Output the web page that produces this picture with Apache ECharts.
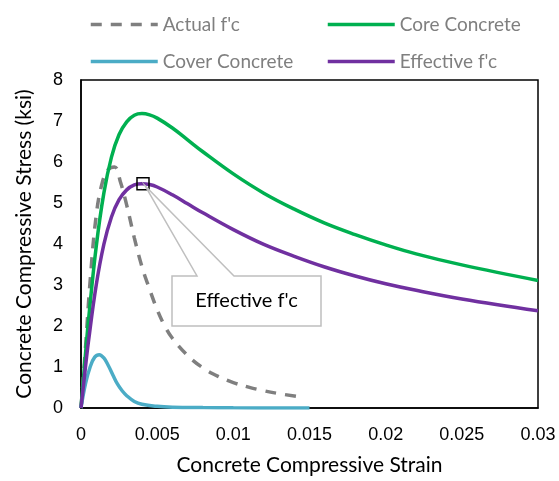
<!DOCTYPE html>
<html>
<head>
<meta charset="utf-8">
<script src="https://cdn.jsdelivr.net/npm/echarts@6/dist/echarts.min.js"></script>
<style>
  html, body { margin: 0; padding: 0; background: #fff; }
  #chart { width: 559px; height: 481px; }
</style>
</head>
<body>
<div id="chart"></div>
<script>
// values (strain, ksi)
const actualStrain = [0, 0.0003, 0.0006, 0.001, 0.0014, 0.0018, 0.0022, 0.0026, 0.003, 0.0035, 0.004, 0.0045, 0.005, 0.0055, 0.006, 0.007, 0.008, 0.009, 0.01, 0.011, 0.012, 0.013, 0.0142]
const actualStress = [0, 1.5, 3.1, 4.7, 5.5, 5.82, 5.88, 5.5, 4.95, 4.15, 3.45, 2.9, 2.4, 2.0, 1.7, 1.28, 0.98, 0.77, 0.62, 0.51, 0.42, 0.35, 0.28]

const coreStrain = [0, 0.00025, 0.0005, 0.001, 0.0015, 0.002, 0.0025, 0.003, 0.0035, 0.004, 0.0045, 0.005, 0.006, 0.007, 0.008, 0.01, 0.012, 0.014, 0.016, 0.018, 0.02, 0.022, 0.025, 0.03]
const coreStress = [0, 1.12, 2.17, 3.94, 5.24, 6.12, 6.67, 6.98, 7.14, 7.18, 7.15, 7.07, 6.83, 6.54, 6.25, 5.71, 5.24, 4.85, 4.51, 4.23, 3.98, 3.76, 3.49, 3.11]

const coverStrain = [0, 0.0003, 0.0006, 0.0009, 0.0012, 0.0015, 0.0018, 0.0021, 0.0024, 0.0027, 0.003, 0.0035, 0.004, 0.005, 0.006, 0.008, 0.01, 0.015]
const coverStress = [0, 0.6, 1.0, 1.24, 1.3, 1.22, 1.03, 0.8, 0.58, 0.42, 0.3, 0.16, 0.09, 0.04, 0.02, 0.01, 0.005, 0]

const effStrain = [0, 0.00025, 0.0005, 0.001, 0.0015, 0.002, 0.0025, 0.003, 0.0035, 0.004, 0.0045, 0.005, 0.006, 0.007, 0.008, 0.01, 0.012, 0.014, 0.016, 0.018, 0.02, 0.022, 0.025, 0.03]
const effStress = [0, 0.85, 1.65, 3.0, 3.99, 4.66, 5.08, 5.32, 5.44, 5.47, 5.45, 5.39, 5.2, 4.98, 4.76, 4.35, 3.99, 3.7, 3.44, 3.22, 3.03, 2.87, 2.66, 2.37]

const calloutPoint = [0.00407, 5.47]
const calloutText = 'Effective f\'c'

const xTicks = [0, 0.005, 0.01, 0.015, 0.02, 0.025, 0.03]
const yTicks = [0, 1, 2, 3, 4, 5, 6, 7, 8]

const pairs = (xs, ys) => xs.map((x, i) => [x, ys[i]])

const titleFont = 'Lato'
const chart = echarts.init(document.getElementById('chart'))

const legendBase = {
  orient: 'vertical',
  top: 10,
  itemWidth: 67, itemHeight: 14, itemGap: 18,
  itemStyle: { opacity: 0 },
  lineStyle: { width: 3.5 },
  textStyle: { fontFamily: titleFont, fontSize: 19, color: '#7f7f7f' }
}

chart.setOption({
  animation: false,
  grid: {
    left: 81, right: 21, top: 80, bottom: 73,
    show: true, borderColor: '#000', borderWidth: 1.5
  },
  legend: [
    Object.assign({ data: ['Actual f\'c', 'Cover Concrete'], left: 84 }, legendBase),
    Object.assign({ data: ['Core Concrete', 'Effective f\'c'], left: 321 }, legendBase)
  ],
  xAxis: {
    type: 'value',
    min: 0, max: 0.03, interval: 0.005,
    name: 'Concrete Compressive Strain',
    nameLocation: 'middle',
    nameGap: 47,
    nameTextStyle: { fontFamily: titleFont, fontSize: 21, color: '#000' },
    axisLine: { lineStyle: { color: '#000', width: 1.5 } },
    axisTick: { show: false },
    splitLine: { show: false },
    axisLabel: {
      margin: 18, fontSize: 18, color: '#000', fontFamily: 'Liberation Sans',
      formatter: v => String(xTicks.find(t => Math.abs(t - v) < 1e-9) ?? v)
    }
  },
  yAxis: {
    type: 'value',
    min: 0, max: 8, interval: 1,
    name: 'Concrete Compressive Stress (ksi)',
    nameLocation: 'middle',
    nameGap: 46,
    nameTextStyle: { fontFamily: titleFont, fontSize: 21, color: '#000' },
    axisLine: { show: true, lineStyle: { color: '#000', width: 1.5 } },
    axisTick: { show: false },
    splitLine: { show: false },
    axisLabel: {
      margin: 18, fontSize: 18, color: '#000', fontFamily: 'Liberation Sans',
      formatter: v => String(yTicks.find(t => t === v) ?? v)
    }
  },
  series: [{
    name: 'Actual f\'c',
    type: 'line',
    data: pairs(actualStrain, actualStress),
    symbol: 'none',
    smooth: 0.4,
    lineStyle: { color: '#7f7f7f', width: 3.5, type: [11, 9] },
    itemStyle: { color: '#7f7f7f' }
  }, {
    name: 'Core Concrete',
    type: 'line',
    data: pairs(coreStrain, coreStress),
    symbol: 'none',
    smooth: 0.4,
    lineStyle: { color: '#00b050', width: 3.5 },
    itemStyle: { color: '#00b050' }
  }, {
    name: 'Cover Concrete',
    type: 'line',
    data: pairs(coverStrain, coverStress),
    symbol: 'none',
    smooth: 0.4,
    lineStyle: { color: '#4bacc6', width: 3.5 },
    itemStyle: { color: '#4bacc6' }
  }, {
    name: 'Effective f\'c',
    type: 'line',
    data: pairs(effStrain, effStress),
    symbol: 'none',
    smooth: 0.4,
    lineStyle: { color: '#7030a0', width: 3.5 },
    itemStyle: { color: '#7030a0' },
    markPoint: {
      symbol: 'rect',
      symbolSize: 12,
      label: { show: false },
      itemStyle: { color: 'rgba(0,0,0,0)', borderColor: '#000', borderWidth: 1.5 },
      data: [{ coord: calloutPoint }]
    }
  }]
})

// callout box with a wedge pointing at the marked point
const tip = chart.convertToPixel({ gridIndex: 0 }, calloutPoint)
const box = { x1: 172, y1: 276, x2: 321, y2: 326, w1: 197, w2: 234 }
chart.setOption({
  graphic: [{
    type: 'polygon',
    z: 100,
    shape: {
      points: [
        [box.x1, box.y1], [box.w1, box.y1], [tip[0] + 2, tip[1] + 2], [box.w2, box.y1],
        [box.x2, box.y1], [box.x2, box.y2], [box.x1, box.y2]
      ]
    },
    style: { fill: '#fff', stroke: '#bfbfbf', lineWidth: 1.5 }
  }, {
    type: 'text',
    z: 101,
    x: (box.x1 + box.x2) / 2,
    y: (box.y1 + box.y2) / 2,
    style: {
      text: calloutText,
      fontFamily: titleFont, fontSize: 20, fill: '#000',
      align: 'center', verticalAlign: 'middle'
    }
  }]
})
</script>
</body>
</html>
